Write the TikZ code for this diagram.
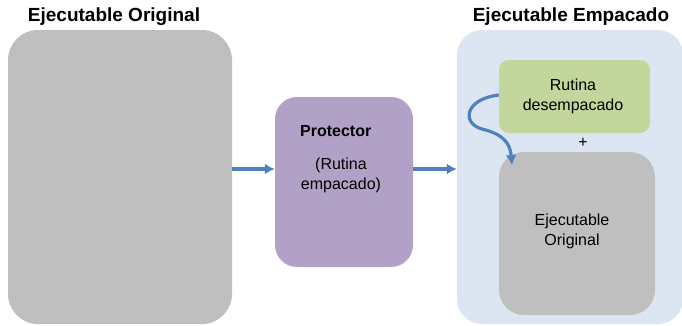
\documentclass[tikz,border=0pt]{standalone}
\usepackage{fontspec}
\setmainfont{Liberation Sans}
\usetikzlibrary{arrows.meta}
\definecolor{boxgray}{HTML}{BFBFBF}
\definecolor{boxpurple}{HTML}{B2A1C7}
\definecolor{boxblue}{HTML}{DCE6F2}
\definecolor{boxgreen}{HTML}{C3D69B}
\definecolor{arrblue}{HTML}{4F81BD}
\tikzset{
  panel/.style={rectangle, rounded corners=#1, inner sep=0pt},
  title/.style={font=\bfseries\fontsize{19}{22}\selectfont, inner sep=0pt},
  txt/.style={font=\fontsize{16}{20}\selectfont, inner sep=0pt, align=center},
  arr/.style={draw=arrblue, line width=3.2pt, -{Latex[length=10pt,width=11pt]}}
}
\begin{document}
\begin{tikzpicture}[x=1pt,y=-1pt]
\useasboundingbox (0,0) rectangle (682,325);
% left
\node[panel=30pt, fill=boxgray, minimum width=224pt, minimum height=294pt] (orig) at (120,177) {};
\node[title] (torig) at (114,17) {Ejecutable Original};
% protector
\node[panel=22pt, fill=boxpurple, minimum width=138pt, minimum height=170pt] (prot) at (344,182) {};
\node[title, font=\bfseries\fontsize{16}{19}\selectfont, anchor=west] (tprot) at (300,131) {Protector};
\node[txt] (tprot2) at (341,175) {(Rutina\\empacado)};
% right panel
\node[panel=25pt, fill=boxblue, minimum width=226pt, minimum height=294pt] (pack) at (570,177) {};
\node[title] (tpack) at (571,17) {Ejecutable Empacado};
\node[panel=10pt, fill=boxgreen, minimum width=151pt, minimum height=73pt] (rut) at (574.5,96.5) {};
\node[txt] (trut) at (573,96) {Rutina\\desempacado};
\node[txt] (plus) at (583,143) {+};
\node[panel=25pt, fill=boxgray, minimum width=156pt, minimum height=163pt] (inner) at (577,233.5) {};
\node[txt] (tinner) at (572,231) {Ejecutable\\Original};
% arrows
\coordinate (ya) at (0,169);
\draw[arr] (orig.east |- ya) -- (prot.west |- ya);
\draw[arr] (prot.east |- ya) -- (pack.west |- ya);
\coordinate (tip) at (512,165);
\draw[arr] (rut.west |- 0,95) .. controls (465,99) and (461,123) .. (482,129) .. controls (502,134) and (510,142) .. (tip);
\end{tikzpicture}
\end{document}
